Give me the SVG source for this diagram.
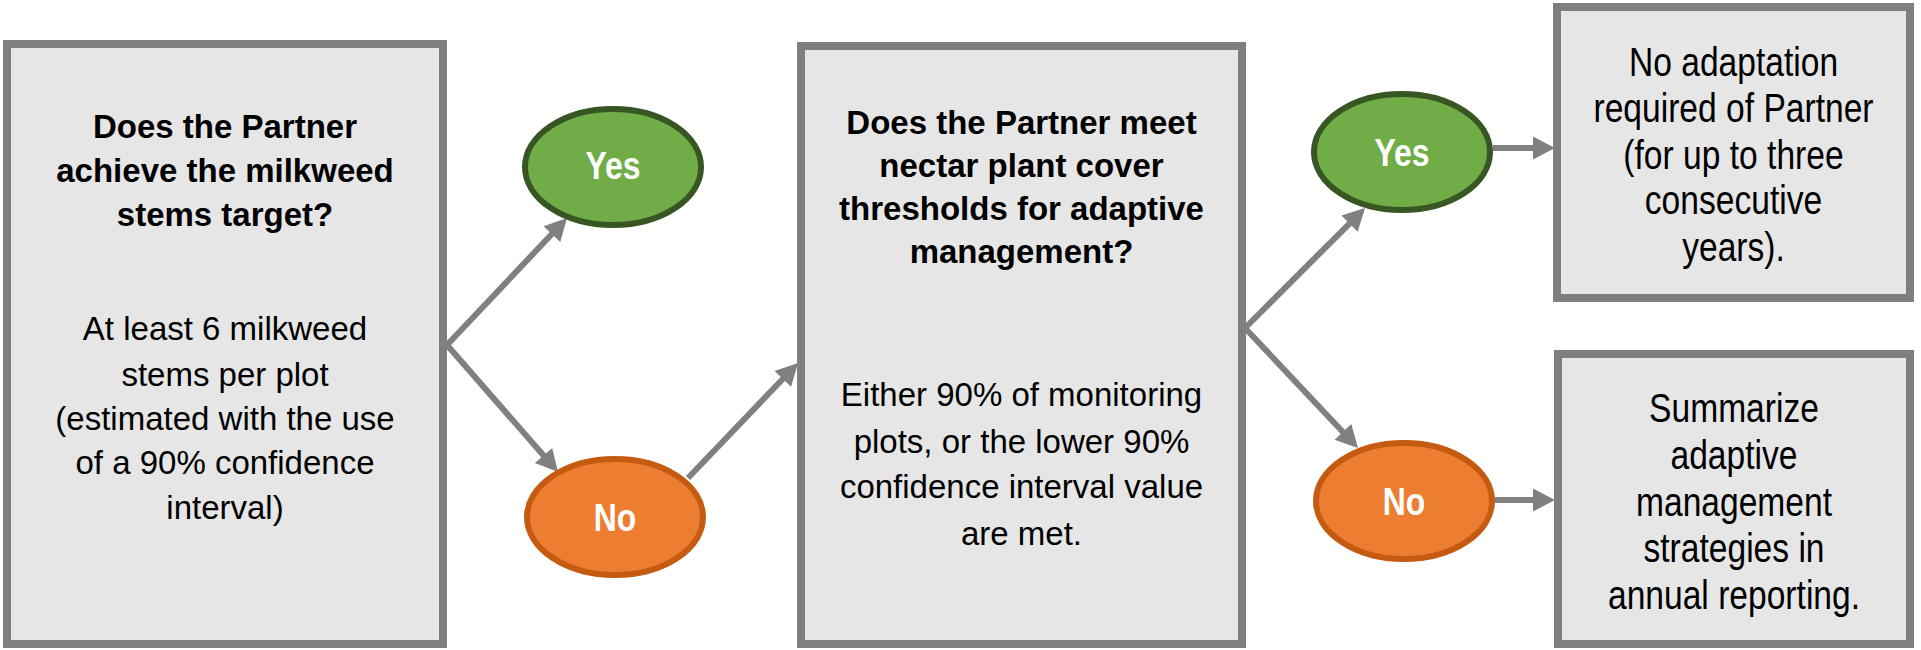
<svg xmlns="http://www.w3.org/2000/svg" width="1921" height="650" viewBox="0 0 1921 650">
<style>
.box{fill:#e6e6e6;stroke:#7f7f7f;stroke-width:8}
.t{font-family:"Liberation Sans",Arial,sans-serif;font-size:33px;fill:#000;text-anchor:middle}
.n{font-family:"Liberation Sans",Arial,sans-serif;font-size:40px;fill:#000;text-anchor:middle}
.b{font-weight:bold}
.yes{fill:#70ad47;stroke:#375623;stroke-width:6}
.no{fill:#ed7d31;stroke:#c55a11;stroke-width:6}
.lbl{font-family:"Liberation Sans",Arial,sans-serif;font-weight:bold;font-size:39px;fill:#fff;text-anchor:middle}
.c{fill:none;stroke:#808080;stroke-width:6;marker-end:url(#ah)}
</style>
<defs>
<marker id="ah" markerUnits="userSpaceOnUse" markerWidth="22" markerHeight="23" viewBox="0 0 22 23" refX="1" refY="11.5" orient="auto" overflow="visible">
<path d="M0,0 L22,11.5 L0,23 Z" fill="#808080"/>
</marker>
</defs>
<g id="connectors">
<path class="c" d="M447,345 L552.6,233.3"/>
<path class="c" d="M447,345 L544.2,456.2"/>
<path class="c" d="M688,478 L783.5,378.2"/>
<path class="c" d="M1245,328 L1350.2,222.8"/>
<path class="c" d="M1245,328 L1343.6,432.7"/>
<path class="c" d="M1493,148 L1534,148"/>
<path class="c" d="M1495,500 L1534,500"/>
</g>
<g id="q1">
<rect class="box" x="7" y="44" width="436" height="600"/>
<text class="t b" x="225" y="138">Does the Partner</text>
<text class="t b" x="225" y="182">achieve the milkweed</text>
<text class="t b" x="225" y="226">stems target?</text>
<text class="t" x="225" y="340">At least 6 milkweed</text>
<text class="t" x="225" y="386">stems per plot</text>
<text class="t" x="225" y="430">(estimated with the use</text>
<text class="t" x="225" y="474">of a 90% confidence</text>
<text class="t" x="225" y="519">interval)</text>
</g>
<g id="yes1">
<ellipse class="yes" cx="613" cy="167" rx="88" ry="58"/>
<text class="lbl" transform="translate(613,179) scale(0.82,1)">Yes</text>
</g>
<g id="no1">
<ellipse class="no" cx="615" cy="517" rx="88" ry="58"/>
<text class="lbl" transform="translate(615,531) scale(0.82,1)">No</text>
</g>
<g id="q2">
<rect class="box" x="801" y="46" width="441" height="598"/>
<text class="t b" x="1021.5" y="134">Does the Partner meet</text>
<text class="t b" x="1021.5" y="177">nectar plant cover</text>
<text class="t b" x="1021.5" y="220">thresholds for adaptive</text>
<text class="t b" x="1021.5" y="263">management?</text>
<text class="t" x="1021.5" y="406">Either 90% of monitoring</text>
<text class="t" x="1021.5" y="453">plots, or the lower 90%</text>
<text class="t" x="1021.5" y="498">confidence interval value</text>
<text class="t" x="1021.5" y="545">are met.</text>
</g>
<g id="yes2">
<ellipse class="yes" cx="1402" cy="152" rx="88" ry="58"/>
<text class="lbl" transform="translate(1402,166) scale(0.82,1)">Yes</text>
</g>
<g id="no2">
<ellipse class="no" cx="1404" cy="501" rx="88" ry="58"/>
<text class="lbl" transform="translate(1404,515) scale(0.82,1)">No</text>
</g>
<g id="r1">
<rect class="box" x="1557" y="7" width="353" height="291"/>
<g transform="translate(1733.5,0) scale(0.84,1)">
<text class="n" x="0" y="76">No adaptation</text>
<text class="n" x="0" y="122">required of Partner</text>
<text class="n" x="0" y="169">(for up to three</text>
<text class="n" x="0" y="214">consecutive</text>
<text class="n" x="0" y="261">years).</text>
</g>
</g>
<g id="r2">
<rect class="box" x="1558" y="354" width="352" height="290"/>
<g transform="translate(1734,0) scale(0.84,1)">
<text class="n" x="0" y="422">Summarize</text>
<text class="n" x="0" y="469">adaptive</text>
<text class="n" x="0" y="516">management</text>
<text class="n" x="0" y="562">strategies in</text>
<text class="n" x="0" y="609">annual reporting.</text>
</g>
</g>
</svg>
